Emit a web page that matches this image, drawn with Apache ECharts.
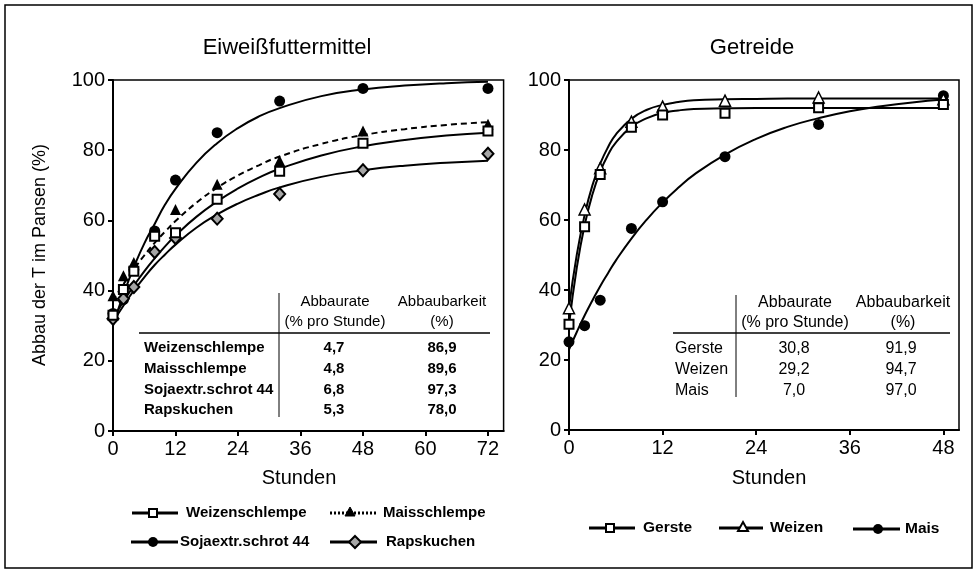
<!DOCTYPE html>
<html><head><meta charset="utf-8">
<script src="https://cdn.jsdelivr.net/npm/echarts@6/dist/echarts.min.js"></script>
<style>html,body{margin:0;padding:0;background:#fff}#c{width:979px;height:576px}</style>
</head><body><div id="c"></div><script>
const FONT = '"Liberation Sans", Arial, Helvetica, sans-serif';
const leftTitle = 'Eiweißfuttermittel';
const rightTitle = 'Getreide';
const yAxisTitle = 'Abbau der T im Pansen (%)';
const xAxisTitle = 'Stunden';
const leftXTicks = [0, 12, 24, 36, 48, 60, 72];
const rightXTicks = [0, 12, 24, 36, 48];

// measured points (Eiweißfuttermittel)
const leftTimes = [0, 2, 4, 8, 12, 20, 32, 48, 72];
const weizenschlempe = [33, 40.3, 45.5, 55.5, 56.5, 66, 74, 82, 85.5];
const maisschlempe = [38.5, 44.2, 48, 56.3, 63.1, 70.3, 77, 85.5, 87.4];
const sojaextr = [33.5, 37.4, 46, 57, 71.5, 85, 94, 97.6, 97.6];
const rapskuchen = [32, 37.7, 41, 51, 55, 60.5, 67.5, 74.3, 79];

// fitted curves (Eiweißfuttermittel)
const leftFitTimes = [0, 1, 2, 3, 4, 6, 8, 10, 12, 16, 20, 24, 28, 32, 40, 48, 56, 64, 72];
const weizenschlempeFit = [32, 34.5, 36.9, 39.2, 41.4, 45.5, 49.2, 52.6, 55.7, 61, 65.4, 69.1, 72.2, 74.7, 78.5, 81.1, 82.9, 84.2, 85];
const maisschlempeFit = [37, 39.5, 41.8, 44, 46.1, 50, 53.6, 56.8, 59.8, 65, 69.3, 72.8, 75.7, 78.2, 81.8, 84.3, 86, 87.2, 88];
const sojaextrFit = [30, 34.6, 38.9, 42.9, 46.7, 53.4, 59, 64.5, 69, 76.4, 82, 86.3, 89.6, 92, 95.4, 97.3, 98.4, 99.1, 99.5];
const rapskuchenFit = [31, 33.4, 35.7, 37.9, 40, 43.8, 47.3, 50.3, 53.1, 57.9, 61.7, 64.8, 67.3, 69.4, 72.4, 74.3, 75.6, 76.4, 77];

// measured points (Getreide)
const rightTimes = [0, 2, 4, 8, 12, 20, 32, 48];
const gerste = [30.2, 58.1, 73, 86.5, 90, 90.5, 92.1, 93];
const weizen = [34.8, 63, 74.8, 88.1, 92.4, 94.1, 95, 94.5];
const mais = [25.2, 29.8, 37.1, 57.6, 65.2, 78.1, 87.3, 95.5];

// fitted curves (Getreide)
const rightFitTimes = [0, 1, 2, 3, 4, 5, 6, 8, 10, 12, 14, 16, 20, 24, 28, 32, 36, 40, 44, 48];
const gersteFit = [30, 46.4, 58.5, 67.3, 73.8, 78.6, 82.1, 86.6, 89.1, 90.6, 91.3, 91.7, 91.9, 92, 92, 92, 92, 92, 92, 92];
const weizenFit = [35, 50.1, 61.4, 69.9, 76.1, 80.8, 84.4, 88.9, 91.5, 92.9, 93.7, 94.2, 94.5, 94.6, 94.7, 94.7, 94.7, 94.7, 94.7, 94.7];
const maisFit = [23, 28, 32.7, 37, 41.1, 44.8, 48.4, 54.7, 60.2, 65, 69.2, 72.9, 78.7, 83.2, 86.6, 89.1, 91.1, 92.5, 93.6, 94.4];

// tables
const tableHeadRate = ['Abbaurate', '(% pro Stunde)'];
const tableHeadDeg = ['Abbaubarkeit', '(%)'];
const leftNames = ['Weizenschlempe', 'Maisschlempe', 'Sojaextr.schrot 44', 'Rapskuchen'];
const leftRates = ['4,7', '4,8', '6,8', '5,3'];
const leftDeg = ['86,9', '89,6', '97,3', '78,0'];
const rightNames = ['Gerste', 'Weizen', 'Mais'];
const rightRates = ['30,8', '29,2', '7,0'];
const rightDeg = ['91,9', '94,7', '97,0'];

const zip = (xs, ys) => xs.map((x, i) => [x, ys[i]]);
const chart = echarts.init(document.getElementById('c'), null, {renderer: 'canvas'});

function fit(name, xi, xs, ys, dashed) {
  return {type: 'line', name, xAxisIndex: xi, yAxisIndex: xi, data: zip(xs, ys), smooth: true,
    symbol: 'none', showSymbol: false, silent: true, z: 2,
    lineStyle: {color: '#000', width: 2, type: dashed ? [6, 4] : 'solid'}};
}
function pts(name, xi, xs, ys, symbol, size, fill, bw) {
  return {type: 'scatter', name, xAxisIndex: xi, yAxisIndex: xi, data: zip(xs, ys), symbol, symbolSize: size, z: 5,
    itemStyle: {color: fill, borderColor: '#000', borderWidth: bw, opacity: 1}};
}

const txt = (text, x, y, size, align, extra, weight) => Object.assign({type: 'text', x, y, silent: true,
  style: {text, fill: '#000', font: (weight || 'normal') + ' ' + size + 'px ' + FONT, textAlign: align || 'left', textVerticalAlign: 'middle'}}, extra || {});
const ln = (x1, y1, x2, y2, w, dash) => ({type: 'line', silent: true, shape: {x1, y1, x2, y2},
  style: {stroke: '#000', lineWidth: w || 1, lineDash: dash || null}});

const g = [];
g.push({type: 'rect', silent: true, shape: {x: 5, y: 5, width: 967, height: 563}, style: {fill: null, stroke: '#000', lineWidth: 1.5}});
g.push(txt(leftTitle, 287, 48, 22, 'center'));
g.push(txt(rightTitle, 752, 48, 22, 'center'));
g.push(txt(yAxisTitle, 40, 255, 18, 'center', {rotation: Math.PI / 2}));
g.push(txt(xAxisTitle, 299, 478, 20, 'center'));
g.push(txt(xAxisTitle, 769, 478, 20, 'center'));

// left table
g.push(ln(279, 293, 279, 417, 1));
g.push(ln(139, 333, 490, 333, 1.5));
g.push(txt(tableHeadRate[0], 335, 302, 15, 'center'));
g.push(txt(tableHeadRate[1], 335, 322, 15, 'center'));
g.push(txt(tableHeadDeg[0], 442, 302, 15, 'center'));
g.push(txt(tableHeadDeg[1], 442, 322, 15, 'center'));
leftNames.forEach((n, i) => {
  const y = 348 + i * 20.7;
  g.push(txt(n, 144, y, 15, 'left', null, 'bold'));
  g.push(txt(leftRates[i], 334, y, 15, 'center', null, 'bold'));
  g.push(txt(leftDeg[i], 442, y, 15, 'center', null, 'bold'));
});
// right table
g.push(ln(736, 295, 736, 397, 1));
g.push(ln(673, 333, 950, 333, 1.5));
g.push(txt(tableHeadRate[0], 795, 303, 16, 'center'));
g.push(txt(tableHeadRate[1], 795, 323, 16, 'center'));
g.push(txt(tableHeadDeg[0], 903, 303, 16, 'center'));
g.push(txt(tableHeadDeg[1], 903, 323, 16, 'center'));
rightNames.forEach((n, i) => {
  const y = 349 + i * 21;
  g.push(txt(n, 675, y, 16, 'left'));
  g.push(txt(rightRates[i], 794, y, 16, 'center'));
  g.push(txt(rightDeg[i], 901, y, 16, 'center'));
});

// legends
function legItem(x1, x2, mx, y, marker, label, tx, size, dash) {
  g.push(ln(x1, y, x2, y, 3, dash));
  if (marker === 'square') g.push({type: 'rect', silent: true, shape: {x: mx - 4, y: y - 4, width: 8, height: 8}, style: {fill: '#fff', stroke: '#000', lineWidth: 2}});
  if (marker === 'circle') g.push({type: 'circle', silent: true, shape: {cx: mx, cy: y, r: 5}, style: {fill: '#000'}});
  if (marker === 'tri') g.push({type: 'polygon', silent: true, shape: {points: [[mx, y - 6], [mx + 5, y + 3], [mx - 5, y + 3]]}, style: {fill: '#000', stroke: '#000', lineWidth: 1}});
  if (marker === 'triOpen') g.push({type: 'polygon', silent: true, shape: {points: [[mx, y - 6], [mx + 5, y + 3], [mx - 5, y + 3]]}, style: {fill: '#fff', stroke: '#000', lineWidth: 2}});
  if (marker === 'diamond') g.push({type: 'polygon', silent: true, shape: {points: [[mx, y - 6], [mx + 6, y], [mx, y + 6], [mx - 6, y]]}, style: {fill: '#a6a6a6', stroke: '#000', lineWidth: 2}});
  g.push(txt(label, tx, y, size, 'left', null, 'bold'));
}
legItem(132, 178, 153, 513, 'square', 'Weizenschlempe', 186, 15);
legItem(330, 377, 350, 513, 'tri', 'Maisschlempe', 383, 15, [2, 2]);
legItem(131, 178, 153, 542, 'circle', 'Sojaextr.schrot 44', 180, 15);
legItem(330, 377, 355, 542, 'diamond', 'Rapskuchen', 386, 15);
legItem(589, 635, 610, 528, 'square', 'Gerste', 643, 15.5);
legItem(719, 763, 743, 528, 'triOpen', 'Weizen', 770, 15.5);
legItem(853, 900, 878, 529, 'circle', 'Mais', 905, 15.5);

const axisLabel = {color: '#000', fontSize: 20, fontFamily: FONT, margin: 8};
function xAx(gi, max, ticks) {
  return {type: 'value', gridIndex: gi, min: 0, max,
    axisLine: {show: true, onZero: false, lineStyle: {color: '#000', width: 2}},
    axisTick: {show: true, length: 5, lineStyle: {color: '#000', width: 2}, customValues: ticks},
    axisLabel: Object.assign({}, axisLabel, {customValues: ticks}),
    splitLine: {show: false}};
}
function yAx(gi) {
  return {type: 'value', gridIndex: gi, min: 0, max: 100, interval: 20,
    axisLine: {show: true, lineStyle: {color: '#000', width: 2}},
    axisTick: {show: true, length: 5, lineStyle: {color: '#000', width: 2}},
    axisLabel: axisLabel, splitLine: {show: false}};
}

chart.setOption({
  backgroundColor: '#fff',
  animation: false,
  textStyle: {fontFamily: FONT},
  grid: [
    {left: 113, top: 80, width: 390.6, height: 351, show: true, borderColor: '#000', borderWidth: 1.5, backgroundColor: 'transparent'},
    {left: 569, top: 80, width: 390, height: 350, show: true, borderColor: '#000', borderWidth: 1.5, backgroundColor: 'transparent'}
  ],
  xAxis: [xAx(0, 75, leftXTicks), xAx(1, 50, rightXTicks)],
  yAxis: [yAx(0), yAx(1)],
  series: [
    fit('Weizenschlempe', 0, leftFitTimes, weizenschlempeFit),
    fit('Maisschlempe', 0, leftFitTimes, maisschlempeFit, true),
    fit('Sojaextr.schrot 44', 0, leftFitTimes, sojaextrFit),
    fit('Rapskuchen', 0, leftFitTimes, rapskuchenFit),
    pts('Sojaextr.schrot 44 P', 0, leftTimes, sojaextr, 'circle', 11, '#000', 0),
    pts('Maisschlempe P', 0, leftTimes, maisschlempe, 'triangle', 11, '#000', 0),
    pts('Rapskuchen P', 0, leftTimes, rapskuchen, 'diamond', [11, 12], '#a6a6a6', 2),
    pts('Weizenschlempe P', 0, leftTimes, weizenschlempe, 'rect', 9, '#fff', 2),
    fit('Gerste', 1, rightFitTimes, gersteFit),
    fit('Weizen', 1, rightFitTimes, weizenFit),
    fit('Mais', 1, rightFitTimes, maisFit),
    pts('Mais P', 1, rightTimes, mais, 'circle', 11, '#000', 0),
    pts('Weizen P', 1, rightTimes, weizen, 'triangle', 11, '#fff', 1.5),
    pts('Gerste P', 1, rightTimes, gerste, 'rect', 9, '#fff', 2)
  ],
  graphic: g
});
</script></body></html>
